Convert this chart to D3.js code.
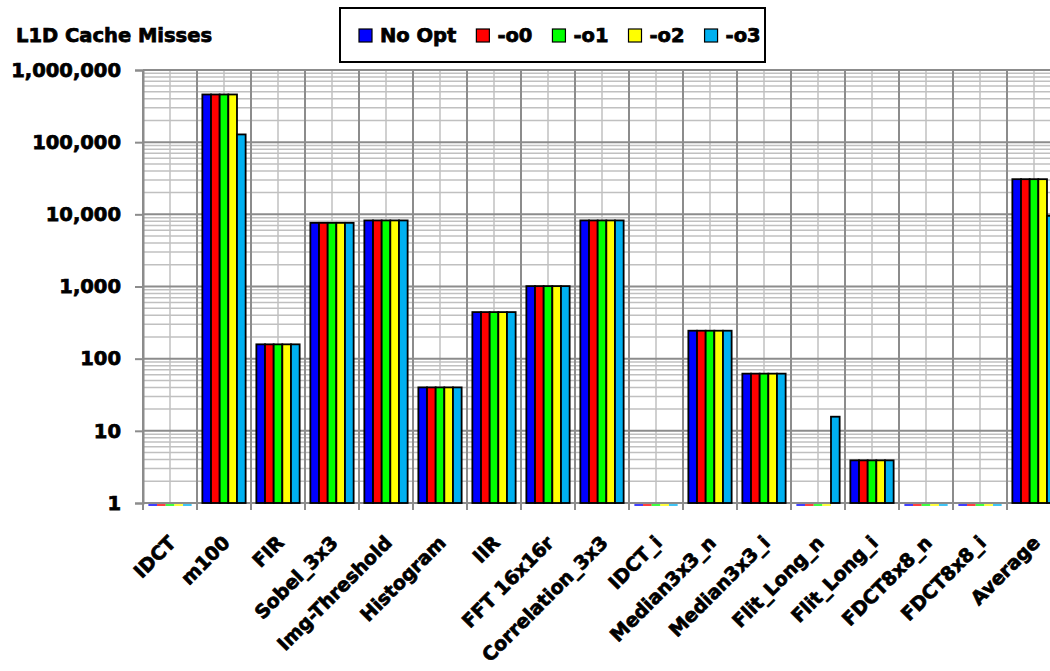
<!DOCTYPE html>
<html>
<head>
<meta charset="utf-8">
<script src="https://cdn.jsdelivr.net/npm/d3@7"></script>
<style>
  html, body { margin: 0; padding: 0; background: #fff; }
  svg text { font-family: "DejaVu Sans", "Liberation Sans", sans-serif; font-weight: bold; fill: #000;
             stroke: #000; stroke-width: 0.75px; paint-order: stroke; }
</style>
</head>
<body>
<svg id="chart" width="1050" height="671"></svg>
<script>
// L1D cache misses per benchmark, for each optimisation level (log scale)
const categories = ["IDCT", "m100", "FIR", "Sobel_3x3", "Img-Threshold", "Histogram", "IIR",
  "FFT 16x16r", "Correlation_3x3", "IDCT_i", "Median3x3_n", "Median3x3_i", "Flit_Long_n",
  "Flit_Long_i", "FDCT8x8_n", "FDCT8x8_i", "Average"];
const seriesNames = ["No Opt", "-o0", "-o1", "-o2", "-o3"];
const noOpt = [1, 458000, 158, 7620, 8230, 40, 442, 1012, 8230, 1, 244, 62, 1, 3.9, 1, 1, 30700];
const o0    = [1, 458000, 158, 7620, 8230, 40, 442, 1012, 8230, 1, 244, 62, 1, 3.9, 1, 1, 30700];
const o1    = [1, 458000, 158, 7620, 8230, 40, 442, 1012, 8230, 1, 244, 62, 1, 3.9, 1, 1, 30700];
const o2    = [1, 458000, 158, 7620, 8230, 40, 442, 1012, 8230, 1, 244, 62, 1, 3.9, 1, 1, 30700];
const o3    = [1, 128000, 158, 7620, 8230, 40, 442, 1012, 8230, 1, 244, 62, 15.7, 3.9, 1, 1, 9530];
const yTickValues = [1, 10, 100, 1000, 10000, 100000, 1000000];
const chartTitle = "L1D Cache Misses";

const seriesValues = [noOpt, o0, o1, o2, o3];
const rows = categories.map((c, i) => ({
  category: c,
  values: seriesNames.map((s, k) => ({ series: s, value: seriesValues[k][i] }))
}));

const svg = d3.select("#chart");
const W = 1050;
const plot = { left: 143, top: 70, bottom: 503, step: 54 };

const x0 = d3.scaleBand().domain(categories)
  .range([plot.left, plot.left + plot.step * categories.length]).padding(0);
const x1 = d3.scaleBand().domain(seriesNames)
  .range([0, x0.bandwidth()]).paddingInner(0).paddingOuter(0.62);
const y = d3.scaleLog().domain([1, 1e6]).range([plot.bottom, plot.top]);
const color = d3.scaleOrdinal().domain(seriesNames)
  .range(["#0000ff", "#ff0000", "#00ff00", "#ffff00", "#00b0f0"]);

const plotRight = Math.min(W, x0.range()[1]);

// grid: minor log lines first, then majors
const grid = svg.append("g");
const allTicks = y.ticks();
grid.selectAll("line.minor").data(allTicks.filter(t => !yTickValues.includes(t)))
  .join("line")
  .attr("x1", plot.left).attr("x2", plotRight)
  .attr("y1", d => y(d)).attr("y2", d => y(d))
  .attr("stroke", "#c0c0c0").attr("stroke-width", 1.5);

// vertical lines at category midpoints (light) and boundaries (dark)
grid.selectAll("line.mid").data(categories).join("line")
  .attr("x1", d => x0(d) + x0.bandwidth() / 2).attr("x2", d => x0(d) + x0.bandwidth() / 2)
  .attr("y1", plot.top).attr("y2", plot.bottom)
  .attr("stroke", "#c0c0c0").attr("stroke-width", 1.5);
grid.selectAll("line.bound").data(categories).join("line")
  .attr("x1", d => x0(d)).attr("x2", d => x0(d))
  .attr("y1", plot.top).attr("y2", plot.bottom + 7)
  .attr("stroke", "#8c8c8c").attr("stroke-width", 2);

grid.selectAll("line.major").data(yTickValues).join("line")
  .attr("x1", plot.left).attr("x2", plotRight)
  .attr("y1", d => y(d)).attr("y2", d => y(d))
  .attr("stroke", "#8c8c8c").attr("stroke-width", 2);

// y axis
const yAxis = svg.append("g")
  .attr("transform", `translate(${plot.left},0)`)
  .call(d3.axisLeft(y).tickValues(yTickValues).tickFormat(d3.format(",")).tickSize(8).tickPadding(14));
yAxis.select(".domain").attr("stroke", "#8c8c8c").attr("stroke-width", 2);
yAxis.selectAll(".tick line").attr("stroke", "#8c8c8c").attr("stroke-width", 2);
yAxis.selectAll(".tick text")
  .style("font-size", "19.5px").style("font-family", '"DejaVu Sans", sans-serif')
  .style("font-weight", "bold").attr("fill", "#000");

// bars
const groups = svg.append("g").selectAll("g").data(rows).join("g")
  .attr("transform", d => `translate(${x0(d.category)},0)`);
groups.selectAll("rect").data(d => d.values.filter(v => v.value > 1)).join("rect")
  .attr("x", d => x1(d.series))
  .attr("y", d => y(d.value))
  .attr("width", x1.bandwidth())
  .attr("height", d => y(1) - y(d.value))
  .attr("fill", d => color(d.series))
  .attr("stroke", "#000").attr("stroke-width", 1.8);
// bars sitting at the axis floor show only as a thin coloured strip
groups.selectAll("line.floor").data(d => d.values.filter(v => v.value <= 1)).join("line")
  .attr("x1", d => x1(d.series)).attr("x2", d => x1(d.series) + x1.bandwidth())
  .attr("y1", y(1) + 2).attr("y2", y(1) + 2)
  .attr("stroke", d => color(d.series)).attr("stroke-width", 1.5);

// x axis labels
const xAxis = svg.append("g")
  .attr("transform", `translate(0,${plot.bottom})`)
  .call(d3.axisBottom(x0).tickSize(0).tickPadding(0));
xAxis.select(".domain").remove();
xAxis.selectAll(".tick text")
  .attr("text-anchor", "end")
  .attr("dy", 0).attr("y", 0)
  .attr("transform", "translate(7,41) rotate(-45)")
  .style("font-size", "19px").style("font-family", '"DejaVu Sans", sans-serif')
  .style("font-weight", "bold").attr("fill", "#000");

// title
svg.append("text").attr("x", 16).attr("y", 42)
  .style("font-size", "19.5px").text(chartTitle);

// legend
const legend = svg.append("g");
legend.append("rect")
  .attr("x", 340).attr("y", 8).attr("width", 425).attr("height", 54)
  .attr("fill", "#fff").attr("stroke", "#000").attr("stroke-width", 2);
let lx = 359;
seriesNames.forEach(s => {
  legend.append("rect").attr("x", lx).attr("y", 29).attr("width", 13).attr("height", 13)
    .attr("fill", color(s)).attr("stroke", "#000").attr("stroke-width", 1.2);
  const t = legend.append("text").attr("x", lx + 21).attr("y", 42)
    .style("font-size", "19.5px").text(s);
  lx = lx + 21 + t.node().getComputedTextLength() + 20;
});
</script>
</body>
</html>
